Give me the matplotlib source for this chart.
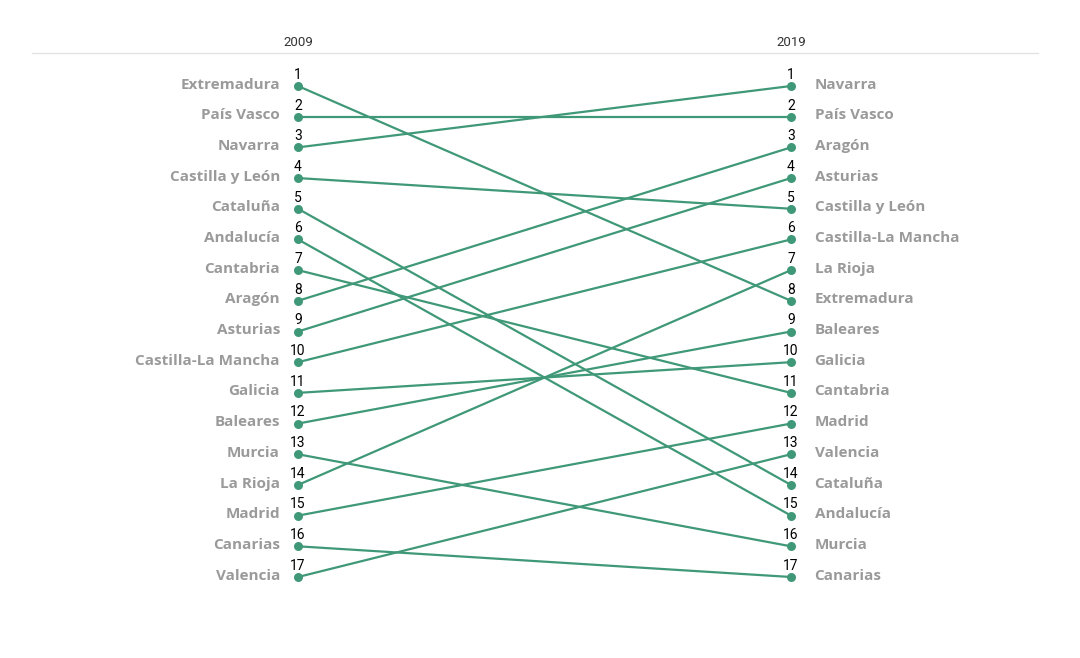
import matplotlib.pyplot as plt
from matplotlib.lines import Line2D

years = ['2009', '2019']
names_2009 = ['Extremadura', 'País Vasco', 'Navarra', 'Castilla y León', 'Cataluña',
              'Andalucía', 'Cantabria', 'Aragón', 'Asturias', 'Castilla-La Mancha',
              'Galicia', 'Baleares', 'Murcia', 'La Rioja', 'Madrid', 'Canarias', 'Valencia']
names_2019 = ['Navarra', 'País Vasco', 'Aragón', 'Asturias', 'Castilla y León',
              'Castilla-La Mancha', 'La Rioja', 'Extremadura', 'Baleares', 'Galicia',
              'Cantabria', 'Madrid', 'Valencia', 'Cataluña', 'Andalucía', 'Murcia', 'Canarias']

green = '#3f9877'
grey = '#9a9a9a'

fig = plt.figure(figsize=(10.8, 6.58), dpi=100)
ax = fig.add_axes([298/1080, 1-577/658, 493/1080, (577-86)/658])
ax.set_xlim(0, 1)
ax.set_ylim(len(names_2009), 1)
ax.axis('off')

for i, name in enumerate(names_2009):
    r0 = i + 1
    r1 = names_2019.index(name) + 1
    ax.plot([0, 1], [r0, r1], color=green, lw=1.6, clip_on=False, zorder=1)

for x, names in zip([0, 1], [names_2009, names_2019]):
    ranks = list(range(1, len(names)+1))
    ax.scatter([x]*len(names), ranks, s=42, color=green, zorder=3, clip_on=False,
               linewidths=0)
    for r, name in zip(ranks, names):
        ax.annotate(str(r), (x, r), xytext=(0, 3), textcoords='offset points',
                    ha='center', va='bottom', fontsize=10, family='Roboto',
                    color='black')
        if x == 0:
            ax.annotate(name, (x, r), xytext=(-13, 1), textcoords='offset points',
                        ha='right', va='center', fontsize=11, family='Open Sans',
                        fontweight='bold', color=grey)
        else:
            ax.annotate(name, (x, r), xytext=(17, 1), textcoords='offset points',
                        ha='left', va='center', fontsize=11, family='Open Sans',
                        fontweight='bold', color=grey)

# header
for x, yr in zip([0, 1], years):
    ax.annotate(yr, (x, 1), xycoords=('data', 'axes fraction'), xytext=(0, 31),
                textcoords='offset points', ha='center', va='center',
                fontsize=9.5, family='Roboto', color='#333333')
fig.add_artist(Line2D([32/1080, 1038/1080], [1-53/658, 1-53/658],
                      color='#e3e3e3', lw=1))

fig.savefig('out.png', dpi=100, facecolor='white')
